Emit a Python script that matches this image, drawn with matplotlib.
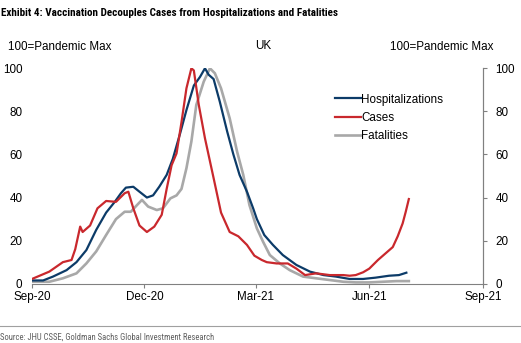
import matplotlib
matplotlib.use("Agg")
import matplotlib.pyplot as plt
import pandas as pd

plt.rcParams['font.family'] = ['Liberation Sans', 'DejaVu Sans']
narrow = ['Roboto Condensed', 'DejaVu Sans']

# data: days since 2020-09-01, value (100 = pandemic max)
hosp_days = [0, 9, 17, 28, 36, 44, 52, 60, 67, 72, 76, 82, 87, 93, 98, 103, 109, 114, 120, 125,
             131, 136, 140, 143, 147, 152, 158, 163, 168, 174, 179, 182, 188, 195, 203, 214, 225,
             236, 246, 257, 268, 278, 289, 297, 303]
hosp_vals = [1.5, 1.5, 3.3, 6.3, 10, 15.6, 25, 33, 38, 42, 44.6, 45, 42.7, 40, 41, 45, 50.5, 58, 70, 80.6,
             92, 96, 100, 97, 95, 84.5, 70.6, 60, 50.5, 42.7, 35, 30, 22.6, 18, 13.3, 8.7, 5.6,
             4, 3.3, 2.2, 2.2, 2.8, 3.7, 4, 5.1]

case_days = [0, 14, 25, 32, 35, 39, 41, 47, 53, 60, 68, 75, 78, 82, 87, 93, 99, 105, 109, 113,
             117, 121, 125, 129, 131, 135, 140, 147, 153, 160, 167, 174, 180, 186, 190, 198, 207,
             214, 221, 230, 241, 252, 257, 262, 268, 273, 280, 286, 292, 296, 300, 302.5, 305]
case_vals = [2.2, 5.6, 10, 11, 16, 26.5, 24, 27, 35, 38.4, 38, 42, 42.7, 35, 27, 24, 26.5, 32, 44, 55,
             60.5, 75, 90.7, 100, 99, 83, 67.5, 49, 33, 24, 22, 18, 13, 11, 10, 9.4, 9.4,
             7, 4, 4.8, 4, 4, 3.7, 4, 5.3, 7, 11, 14, 17, 22, 28, 33.4, 39.3]

fat_days = [0, 14, 25, 36, 44, 52, 60, 68, 75, 80, 85, 89, 94, 101, 106, 112, 117, 121, 125, 129,
            133, 139, 144, 148, 153, 160, 166, 171, 176, 182, 187, 192.5, 200.6, 208.6, 219.4, 230,
            241, 252, 262, 273, 284, 295, 305]
fat_vals = [0.9, 0.9, 2.5, 4.8, 9.4, 15, 22.6, 30, 33.4, 33.4, 36.5, 38.9, 35.8, 34.2, 35, 39.6, 41, 44, 53.6, 66,
            83, 93.8, 100, 97.7, 90.7, 76.8, 61.3, 50.5, 36.5, 25.7, 19.5, 13.3, 9.4, 6.3, 3.3, 2.5,
            1.7, 0.9, 0.6, 0.6, 0.9, 1.2, 1.2]

start = pd.Timestamp('2020-09-01')
def to_dates(days):
    return [start + pd.Timedelta(days=d) for d in days]

tick_dates = ['2020-09-01', '2020-12-01', '2021-03-01', '2021-06-01', '2021-09-01']
tick_labels = ['Sep-20', 'Dec-20', 'Mar-21', 'Jun-21', 'Sep-21']

navy = '#0c3b68'
red = '#c9282d'
grey = '#a8a8a8'
fs = 8.4

fig = plt.figure(figsize=(5.21, 3.43), dpi=100)
ax = fig.add_axes([0.0614, 0.1729, 0.8656, 0.628])

ax.plot(to_dates(hosp_days), hosp_vals, color=navy, lw=1.6, label='Hospitalizations', zorder=3)
ax.plot(to_dates(case_days), case_vals, color=red, lw=1.6, label='Cases', zorder=4)
ax.plot(to_dates(fat_days), fat_vals, color=grey, lw=1.9, label='Fatalities', zorder=2)

ax.set_xlim(pd.Timestamp(tick_dates[0]), pd.Timestamp(tick_dates[-1]))
ax.set_ylim(0, 100)
ax.set_xticks([pd.Timestamp(t) for t in tick_dates])
ax.set_xticklabels(tick_labels, fontsize=fs)
ax.set_yticks(range(0, 101, 20))
ax.tick_params(axis='y', labelsize=fs, length=0, pad=7)
ax.tick_params(axis='x', direction='out', length=3, color='#808080', pad=2)

for s in ['top', 'left']:
    ax.spines[s].set_visible(False)
ax.spines['bottom'].set_color('#808080')
ax.spines['right'].set_color('#808080')

ax2 = ax.twinx()
ax2.set_ylim(0, 100)
ax2.set_yticks(range(0, 101, 20))
ax2.tick_params(axis='y', labelsize=fs, direction='out', length=3, color='#808080', pad=6)
for s in ['top', 'left', 'bottom']:
    ax2.spines[s].set_visible(False)
ax2.spines['right'].set_color('#808080')

leg = ax.legend(loc='upper left', bbox_to_anchor=(0.66, 0.91), frameon=False, fontsize=fs,
                handlelength=2.2, handletextpad=0.0, labelspacing=0.55, borderpad=0)

fig.text(0.002, 0.962, 'Exhibit 4: Vaccination Decouples Cases from Hospitalizations and Fatalities',
         fontsize=8, fontweight='bold', family=narrow, va='center')
fig.text(0.016, 0.862, '100=Pandemic Max', fontsize=fs, va='center')
fig.text(0.49, 0.866, 'UK', fontsize=fs, va='center')
fig.text(0.748, 0.862, '100=Pandemic Max', fontsize=fs, va='center')

fig.add_artist(plt.Line2D([0, 1], [0.05, 0.05], color='#a0a0a0', lw=0.8))
fig.text(0.0, 0.018, 'Source: JHU CSSE, Goldman Sachs Global Investment Research', fontsize=6.2,
         color='#606060', family=narrow, va='center')

fig.savefig('out.png', dpi=100)
